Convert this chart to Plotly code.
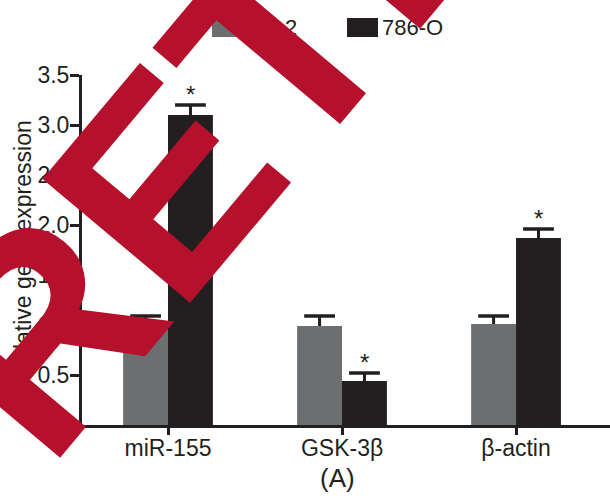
import numpy as np
import plotly.graph_objects as go

categories = ["miR-155", "GSK-3β", "β-actin"]
series_names = ["HK-2", "786-O"]
hk2_values = [1.00, 0.99, 1.01]
hk2_errors = [0.09, 0.10, 0.08]
o786_values = [3.10, 0.44, 1.87]
o786_errors = [0.10, 0.08, 0.09]
significant = [True, True, True]  # 786-O vs HK-2
y_ticks = [0, 0.5, 1.0, 1.5, 2.0, 2.5, 3.0, 3.5]
y_title = "Relative gene expression"

GRAY = "#6d6e70"
BLACK = "#231f20"
RED = "#b5102c"
FONT = "Liberation Sans, Arial, sans-serif"

idx = np.arange(len(categories))
bw = 0.258
x_hk = idx - bw / 2
x_o = idx + bw / 2

fig = go.Figure()
for xs, vals, errs, col, name in [(x_hk, hk2_values, hk2_errors, GRAY, series_names[0]),
                                   (x_o, o786_values, o786_errors, BLACK, series_names[1])]:
    fig.add_trace(go.Bar(
        x=xs, y=vals, width=bw, name=name, marker=dict(color=col, line=dict(width=0)),
        error_y=dict(type="data", array=errs, arrayminus=[0] * len(errs), symmetric=False,
                     width=0, thickness=3, color=BLACK),
        showlegend=False,
    ))
    fig.add_trace(go.Scatter(
        x=xs, y=np.array(vals) + np.array(errs), mode="markers",
        marker=dict(symbol="line-ew", size=22, line=dict(width=3.5, color=BLACK)),
        showlegend=False, hoverinfo="skip",
    ))

# significance stars
for xi, v, e, s in zip(x_o, o786_values, o786_errors, significant):
    if s:
        fig.add_annotation(x=xi, y=v + e, text="*", showarrow=False, yanchor="bottom",
                           yshift=-5, font=dict(family=FONT, size=24, color=BLACK))

# legend (drawn manually to match swatch size)
leg_items = [(series_names[0], GRAY, 212), (series_names[1], BLACK, 347)]
for name, col, x0 in leg_items:
    fig.add_shape(type="rect", xref="paper", yref="paper",
                  x0=(x0 - 82) / 528, x1=(x0 + 31 - 82) / 528,
                  y0=(425 - 37) / 350, y1=(425 - 18) / 350,
                  fillcolor=col, line=dict(width=0))
    fig.add_annotation(xref="paper", yref="paper", x=(x0 + 33 - 82) / 528, y=(425 - 27.5) / 350,
                       text=name, showarrow=False, xanchor="left", yanchor="middle",
                       font=dict(family=FONT, size=22, color=BLACK))

# y-axis title
fig.add_annotation(xref="paper", yref="paper", x=(22.5 - 82) / 528, y=0.5, text=y_title,
                   textangle=-90, showarrow=False, xanchor="center", yanchor="middle",
                   font=dict(family=FONT, size=23, color=BLACK))

# panel label
fig.add_annotation(x=1, xref="x", yref="paper", y=(425 - 478) / 350, xshift=-5, text="(A)",
                   showarrow=False, yanchor="middle", font=dict(family=FONT, size=26, color=BLACK))

# retraction watermark
fig.add_annotation(xref="paper", yref="paper", x=0.8464, y=1.9349,
                   text="RETRACTED", showarrow=False, textangle=-50,
                   xanchor="center", yanchor="middle",
                   font=dict(family="Liberation Sans", size=280, color=RED, weight="bold"))

fig.update_layout(
    width=610, height=498,
    margin=dict(l=82, r=0, t=75, b=73, autoexpand=False),
    paper_bgcolor="white", plot_bgcolor="white",
    font=dict(family=FONT, size=23, color=BLACK),
    barmode="overlay",
    xaxis=dict(range=[-0.4943, 2.540], tickvals=idx, ticktext=categories, automargin=False,
               showline=True, linecolor=BLACK, linewidth=3, ticks="outside",
               ticklen=7, tickwidth=3, tickcolor=BLACK, showgrid=False, zeroline=False,
               ticklabelstandoff=-7, tickfont=dict(size=23, color=BLACK)),
    yaxis=dict(range=[0, 3.5], tickvals=y_ticks, tickformat=".1f", automargin=False,
               showline=True, linecolor=BLACK, linewidth=3, ticks="outside",
               ticklen=9, tickwidth=3, tickcolor=BLACK, showgrid=False, zeroline=False,
               ticklabelstandoff=-4, tickfont=dict(size=23, color=BLACK)),
)

fig.write_html("out.html", config={"displayModeBar": False},
               post_script="document.body.style.margin='0px';")
